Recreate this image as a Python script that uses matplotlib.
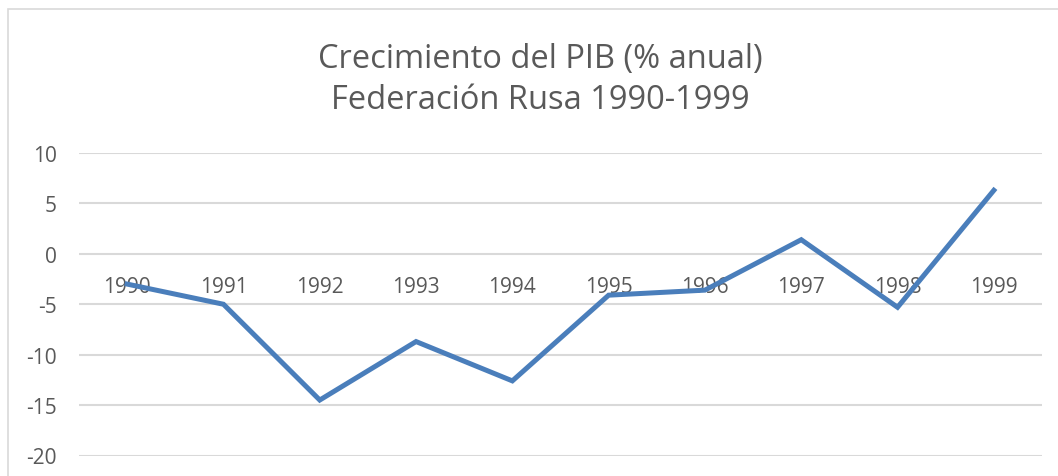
import matplotlib
matplotlib.use("Agg")
import matplotlib.pyplot as plt
from matplotlib.patches import Rectangle

# Russian Federation GDP growth, % per year
years = ["1990", "1991", "1992", "1993", "1994", "1995", "1996", "1997", "1998", "1999"]
growth = [-3.0, -5.0, -14.5, -8.7, -12.6, -4.1, -3.6, 1.4, -5.3, 6.3]
y_ticks = [-20, -15, -10, -5, 0, 5, 10]

title = "Crecimiento del PIB (% anual)\nFederación Rusa 1990-1999"

plt.rcParams["font.family"] = ["Open Sans", "DejaVu Sans"]
text_col = "#595959"
grid_col = "#D9D9D9"
line_col = "#4A7EBB"

W, H = 1058, 477
fig = plt.figure(figsize=(W / 100, H / 100), dpi=100)

# outer chart frame (only the top and left edges are visible in the crop)
fig.patches.append(Rectangle((8 / W, -0.1), 1.2, 1 - 10 / H + 0.1, transform=fig.transFigure,
                             fill=False, edgecolor=grid_col, linewidth=1.2))

ax = fig.add_axes([79 / W, 1 - 456.5 / H, (1042 - 79) / W, (456.5 - 154) / H])
x = list(range(len(years)))
ax.plot(x, growth, color=line_col, linewidth=3.6, solid_joinstyle="miter", zorder=3)

ax.set_xlim(-0.5, len(years) - 0.5)
ax.set_ylim(-20, 10)
ax.set_yticks(y_ticks)
ax.set_yticklabels([str(v) for v in y_ticks])
ax.yaxis.grid(True, color=grid_col, linewidth=1.5)
ax.set_axisbelow(True)
ax.tick_params(axis="y", length=0, pad=16, labelsize=15, labelcolor=text_col)
ax.set_xticks([])
for s in ax.spines.values():
    s.set_visible(False)

# category labels sit just under the zero line
for i, yr in enumerate(years):
    ax.annotate(yr, (i, 0), xytext=(0, -33), textcoords="offset pixels",
                ha="center", va="center", fontsize=15, color=text_col, zorder=2)

fig.text(540 / W, 1 - 80 / H, title, ha="center", va="center", fontsize=23.5,
         color=text_col, linespacing=1.32)

fig.savefig("out.png", dpi=100)
